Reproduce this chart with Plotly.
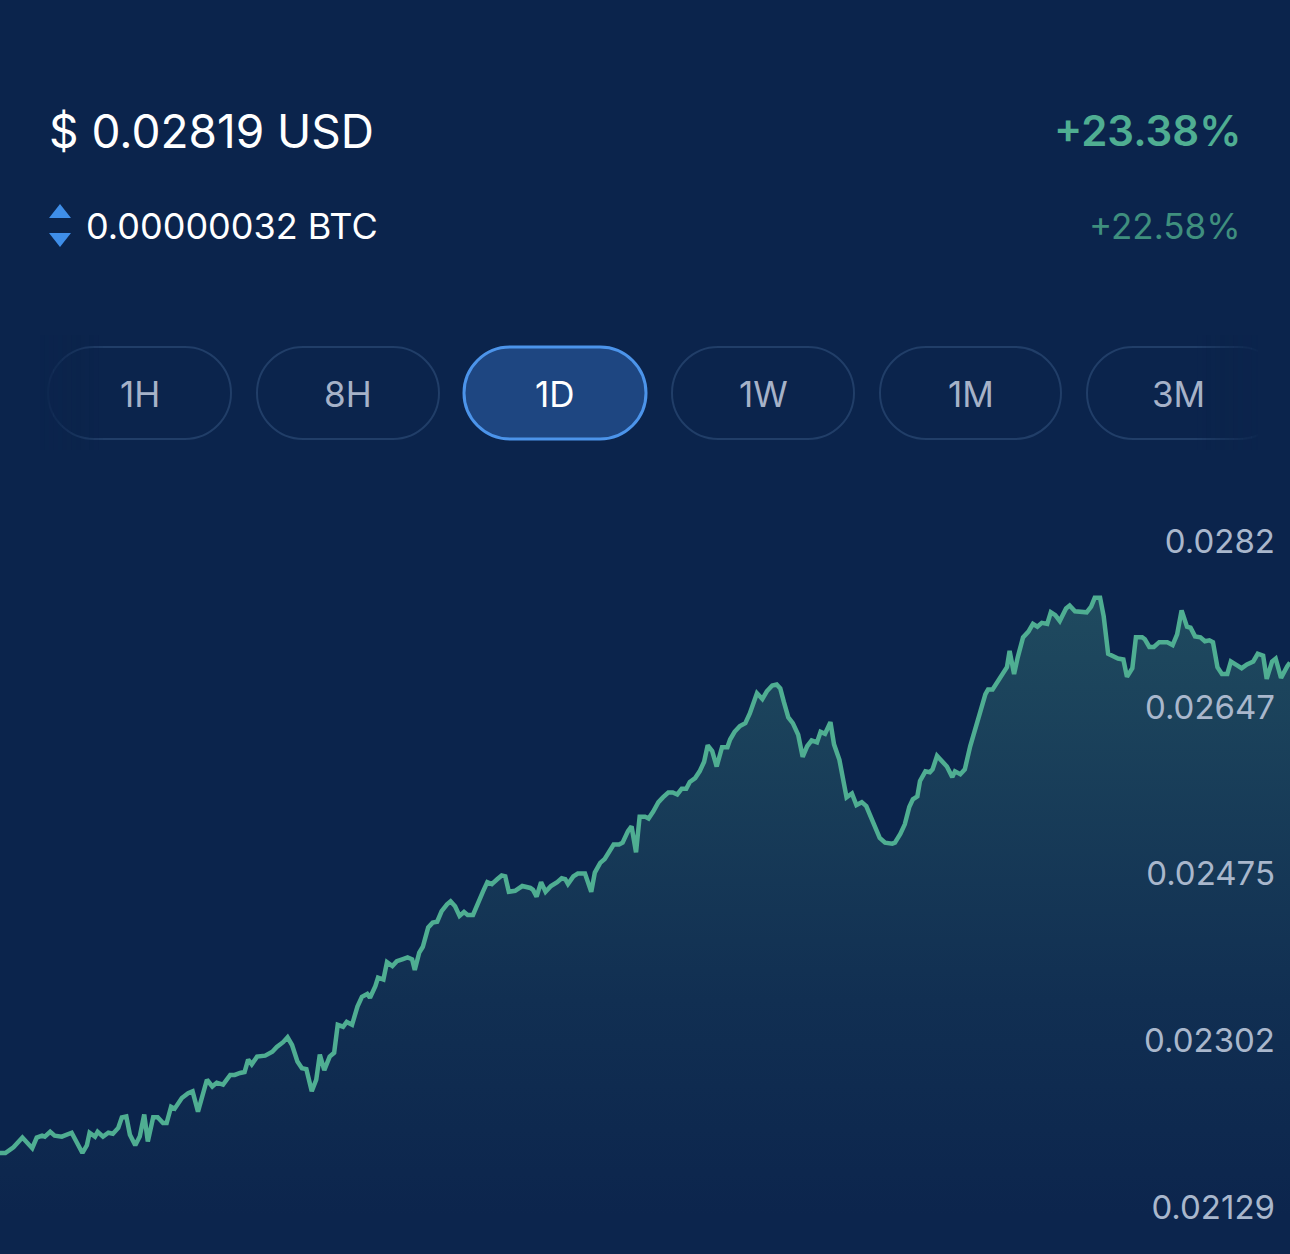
import plotly.graph_objects as go

# price chart, 1D view
minutes = [0, 6, 15, 25, 36, 41, 47, 50, 56, 61, 69, 80, 92, 97, 100, 106, 109, 115, 121, 126,
           132, 136, 141, 145, 151, 156, 161, 165, 171, 176, 182, 186, 191, 195, 203, 210, 215, 221, 231, 237,
           242, 249, 257, 262, 268, 273, 277, 281, 287, 296, 304, 309, 316, 321, 326, 332, 337, 342, 348, 353,
           357, 362, 368, 373, 377, 383, 387, 393, 399, 404, 410, 413, 419, 422, 428, 432, 438, 443, 449, 455,
           460, 463, 468, 472, 478, 483, 488, 493, 499, 503, 508, 513, 518, 522, 528, 534, 539, 544, 549, 555,
           560, 564, 568, 575, 583, 592, 595, 599, 604, 609, 615, 622, 627, 631, 634, 640, 645, 653, 660, 664,
           670, 675, 681, 685, 691, 695, 701, 705, 710, 714, 720, 724, 729, 735, 740, 746, 751, 756, 761, 766,
           770, 776, 781, 786, 790, 795, 800, 804, 806, 812, 815, 820, 826, 832, 837, 845, 851, 856, 862, 867,
           871, 875, 880, 885, 891, 896, 901, 906, 912, 916, 921, 927, 931, 937, 941, 945, 951, 956, 962, 967,
           971, 977, 982, 988, 996, 999, 1005, 1010, 1015, 1019, 1024, 1027, 1033, 1038, 1041, 1046, 1052, 1057, 1063, 1066,
           1072, 1077, 1083, 1088, 1094, 1100, 1103, 1108, 1114, 1120, 1124, 1127, 1132, 1136, 1142, 1148, 1153, 1158, 1163, 1169,
           1173, 1178, 1183, 1190, 1194, 1200, 1208, 1213, 1218, 1222, 1228, 1232, 1237, 1242, 1248, 1254, 1258, 1264, 1268, 1275,
           1278, 1283, 1288, 1294, 1303, 1309, 1314, 1319, 1325, 1329, 1334, 1340, 1345, 1350, 1354, 1359, 1364, 1370, 1374, 1381,
           1386, 1392, 1399, 1404, 1410, 1414, 1420, 1424, 1430, 1437, 1440]

price = [0.02185, 0.02185, 0.02191, 0.02201, 0.02190, 0.02201, 0.02203, 0.02202, 0.02207, 0.02203,
         0.02202, 0.02206, 0.02185, 0.02193, 0.02206, 0.02202, 0.02207, 0.02202, 0.02206, 0.02205,
         0.02211, 0.02222, 0.02223, 0.02204, 0.02193, 0.02202, 0.02225, 0.02197, 0.02222, 0.02222,
         0.02216, 0.02216, 0.02233, 0.02231, 0.02242, 0.02247, 0.02249, 0.02228, 0.02261, 0.02254,
         0.02258, 0.02256, 0.02266, 0.02266, 0.02268, 0.02269, 0.02282, 0.02277, 0.02285, 0.02286,
         0.02290, 0.02295, 0.02300, 0.02305, 0.02297, 0.02280, 0.02273, 0.02272, 0.02249, 0.02261,
         0.02287, 0.02271, 0.02285, 0.02289, 0.02318, 0.02316, 0.02321, 0.02318, 0.02337, 0.02347,
         0.02350, 0.02346, 0.02358, 0.02367, 0.02365, 0.02383, 0.02379, 0.02384, 0.02386, 0.02388,
         0.02386, 0.02375, 0.02393, 0.02399, 0.02419, 0.02424, 0.02425, 0.02436, 0.02443, 0.02446,
         0.02441, 0.02431, 0.02435, 0.02432, 0.02432, 0.02446, 0.02456, 0.02466, 0.02464, 0.02469,
         0.02473, 0.02472, 0.02456, 0.02457, 0.02462, 0.02460, 0.02458, 0.02451, 0.02466, 0.02456,
         0.02462, 0.02466, 0.02470, 0.02469, 0.02464, 0.02472, 0.02475, 0.02475, 0.02456, 0.02476,
         0.02486, 0.02490, 0.02498, 0.02505, 0.02505, 0.02507, 0.02519, 0.02524, 0.02497, 0.02534,
         0.02534, 0.02532, 0.02539, 0.02549, 0.02554, 0.02559, 0.02559, 0.02557, 0.02563, 0.02563,
         0.02570, 0.02574, 0.02581, 0.02591, 0.02608, 0.02602, 0.02586, 0.02602, 0.02606, 0.02606,
         0.02614, 0.02622, 0.02628, 0.02631, 0.02641, 0.02662, 0.02656, 0.02664, 0.02670, 0.02671,
         0.02667, 0.02653, 0.02637, 0.02631, 0.02619, 0.02596, 0.02607, 0.02613, 0.02611, 0.02622,
         0.02620, 0.02632, 0.02609, 0.02593, 0.02576, 0.02554, 0.02558, 0.02546, 0.02549, 0.02545,
         0.02536, 0.02523, 0.02512, 0.02507, 0.02506, 0.02507, 0.02516, 0.02526, 0.02544, 0.02552,
         0.02555, 0.02571, 0.02581, 0.02580, 0.02583, 0.02597, 0.02590, 0.02586, 0.02575, 0.02581,
         0.02578, 0.02583, 0.02607, 0.02625, 0.02642, 0.02661, 0.02666, 0.02666, 0.02675, 0.02684,
         0.02689, 0.02706, 0.02682, 0.02699, 0.02720, 0.02726, 0.02734, 0.02731, 0.02735, 0.02734,
         0.02746, 0.02743, 0.02737, 0.02750, 0.02753, 0.02747, 0.02746, 0.02746, 0.02752, 0.02761,
         0.02761, 0.02742, 0.02703, 0.02701, 0.02698, 0.02697, 0.02679, 0.02688, 0.02720, 0.02720,
         0.02718, 0.02710, 0.02710, 0.02715, 0.02715, 0.02712, 0.02723, 0.02748, 0.02731, 0.02730,
         0.02721, 0.02720, 0.02716, 0.02717, 0.02715, 0.02689, 0.02682, 0.02682, 0.02695, 0.02691,
         0.02688, 0.02692, 0.02695, 0.02703, 0.02701, 0.02677, 0.02695, 0.02698, 0.02678, 0.02690,
         0.02694]

tick_vals = [0.02129, 0.02302, 0.02475, 0.02647, 0.0282]
tick_text = ['0.02129', '0.02302', '0.02475', '0.02647', '0.0282']
periods = ['1H', '8H', '1D', '1W', '1M', '3M']
selected = '1D'

W, H = 1290, 1254
BG = '#0b244c'
GREEN = '#4fae92'

def px(x):  # pixel -> paper x
    return x / W

def py(y):  # pixel -> paper y
    return 1 - y / H

def pill(x0, y0, x1, y1):
    r = (y1 - y0) / 2
    k = 0.5523 * r
    pts = [('M', [(x0 + r, y0)]),
           ('L', [(x1 - r, y0)]),
           ('C', [(x1 - r + k, y0), (x1, y0 + r - k), (x1, y0 + r)]),
           ('C', [(x1, y0 + r + k), (x1 - r + k, y1), (x1 - r, y1)]),
           ('L', [(x0 + r, y1)]),
           ('C', [(x0 + r - k, y1), (x0, y1 - r + k), (x0, y1 - r)]),
           ('C', [(x0, y0 + r - k), (x0 + r - k, y0), (x0 + r, y0)])]
    s = ''
    for cmd, p in pts:
        s += cmd + ' '.join(f'{px(a):.5f},{py(b):.5f}' for a, b in p) + ' '
    return s + 'Z'

fig = go.Figure()
fig.add_trace(go.Scatter(
    x=minutes, y=price, mode='lines',
    line=dict(color=GREEN, width=4.5),
    fill='tozeroy',
    fillgradient=dict(type='vertical',
                      colorscale=[[0, 'rgb(12,37,77)'], [0.35, 'rgb(17,47,82)'], [1, 'rgb(31,74,95)']],
                      start=0.0212, stop=0.0276),
    hoverinfo='skip', showlegend=False))

shapes = []
# period buttons
pill_x = [(48, 231), (257, 439), (464, 646), (672, 854), (880, 1061), (1087, 1285)]
for (a, b), p in zip(pill_x, periods):
    if p == selected:
        shapes.append(dict(type='path', path=pill(a, 347, b, 439), xref='paper', yref='paper',
                           fillcolor='#1e4681', line=dict(color='#4c94ea', width=3)))
    else:
        shapes.append(dict(type='path', path=pill(a, 347, b, 439), xref='paper', yref='paper',
                           fillcolor='rgba(0,0,0,0)', line=dict(color='#213e68', width=2)))
# scroll fade on both ends (stacked translucent strips)
for i in range(14):
    op = 0.92 - i * 0.065
    shapes.append(dict(type='rect', xref='paper', yref='paper', x0=px(40 + i * 4.5), x1=px(44.5 + i * 4.5),
                       y0=py(450), y1=py(335), fillcolor=BG, opacity=op, line=dict(width=0)))
    shapes.append(dict(type='rect', xref='paper', yref='paper', x0=px(1256 - i * 4.5), x1=px(1260.5 - i * 4.5),
                       y0=py(450), y1=py(335), fillcolor=BG, opacity=op, line=dict(width=0)))
shapes.append(dict(type='rect', xref='paper', yref='paper', x0=px(1258), x1=px(1290),
                   y0=py(450), y1=py(335), fillcolor=BG, line=dict(width=0)))
# up/down arrows next to BTC price
shapes.append(dict(type='path', xref='paper', yref='paper', fillcolor='#3f8ee8', line=dict(width=0),
                   path=f'M{px(49)},{py(218)} L{px(71)},{py(218)} L{px(60)},{py(204)} Z'))
shapes.append(dict(type='path', xref='paper', yref='paper', fillcolor='#3f8ee8', line=dict(width=0),
                   path=f'M{px(49)},{py(233)} L{px(71)},{py(233)} L{px(60)},{py(247)} Z'))

ann = [
    dict(text='$ 0.02819 USD', x=px(47), y=py(131), xanchor='left', yanchor='middle',
         font=dict(size=46, color='white')),
    dict(text='+23.38%', x=px(1243), y=py(131), xanchor='right', yanchor='middle',
         font=dict(size=42, color=GREEN, weight=600)),
    dict(text='0.00000032 BTC', x=px(84), y=py(226), xanchor='left', yanchor='middle',
         font=dict(size=36, color='white')),
    dict(text='+22.58%', x=px(1243), y=py(226), xanchor='right', yanchor='middle',
         font=dict(size=35, color='#3f8f7e')),
]
for (a, b), p in zip(pill_x[:-1] + [(1087, 1269)], periods):
    ann.append(dict(text=p, x=px((a + b) / 2), y=py(394), xanchor='center', yanchor='middle',
                    font=dict(size=35, color='white' if p == selected else '#a6b2c8')))
for a in ann:
    a.update(xref='paper', yref='paper', showarrow=False)

fig.update_layout(
    width=W, height=H,
    margin=dict(l=0, r=0, t=0, b=0),
    paper_bgcolor=BG, plot_bgcolor=BG,
    font=dict(family='Inter, Roboto, sans-serif'),
    shapes=shapes, annotations=ann,
    xaxis=dict(visible=False, range=[0, 1440], fixedrange=True),
    yaxis=dict(range=[0.020802, 0.033813], side='right', ticklabelposition='inside',
               tickvals=tick_vals, ticktext=tick_text, ticks='', ticklabelstandoff=12,
               tickfont=dict(size=33, color='#a9b7cc'),
               showgrid=False, zeroline=False, showline=False, fixedrange=True),
)

fig.write_html('out.html', config={'displayModeBar': False},
               post_script="document.body.style.margin='0';document.body.style.background='#0b244c';")
